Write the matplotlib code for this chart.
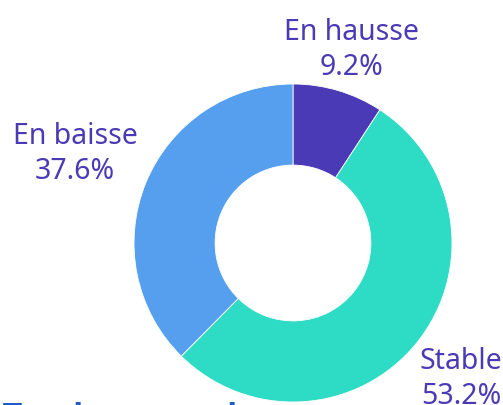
import matplotlib
matplotlib.use("Agg")
import matplotlib.pyplot as plt

labels = ["En hausse", "Stable", "En baisse"]
shares = [9.2, 53.2, 37.6]
colors = ["#4B3AB5", "#2EDBC5", "#559FEE"]
text_color = "#4B3AB5"

W, H = 503, 405
fig = plt.figure(figsize=(W / 100, H / 100), dpi=100)
ax = fig.add_axes([0, 0, 1, 1])

cx, cy, r = 293, H - 243, 159
ax.pie(shares, colors=colors, startangle=90, counterclock=False,
       center=(cx, cy), radius=r, frame=True,
       wedgeprops=dict(width=r * 0.51, edgecolor="white", linewidth=0.6))
ax.set_xlim(0, W)
ax.set_ylim(0, H)
ax.set_aspect("equal")
ax.axis("off")

# label anchor positions (pixels from top-left)
label_pos = {"En hausse": (352, 50), "Stable": (461, 379), "En baisse": (75, 154)}
for lab, val in zip(labels, shares):
    x, y = label_pos[lab]
    ax.text(x, H - y, f"{lab}\n{val:.1f}%", ha="center", va="center",
            color=text_color, fontsize=20.5, family="Noto Sans", linespacing=1.3)

# heading of the next block, clipped by the bottom edge
ax.text(3, -25, "Tension en mai", color="#1F5BC6", fontsize=20,
        fontweight="bold", family="DejaVu Sans", ha="left", va="bottom")

fig.savefig("out.png", dpi=100)
